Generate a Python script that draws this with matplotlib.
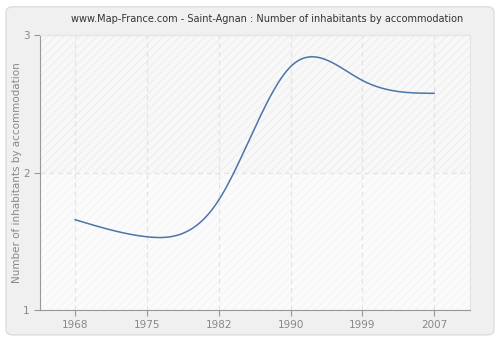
import numpy as np
import matplotlib.pyplot as plt
from matplotlib.patches import FancyBboxPatch, Rectangle

years = ["1968", "1975", "1982", "1990", "1999", "2007"]
values = [1.657, 1.533, 1.80, 2.77, 2.67, 2.576]


def natural_spline(x, y, n=400):
    x = np.asarray(x, float)
    y = np.asarray(y, float)
    k = len(x)
    h = np.diff(x)
    A = np.zeros((k, k))
    b = np.zeros(k)
    A[0, 0] = A[-1, -1] = 1
    for i in range(1, k - 1):
        A[i, i - 1] = h[i - 1]
        A[i, i] = 2 * (h[i - 1] + h[i])
        A[i, i + 1] = h[i]
        b[i] = 6 * ((y[i + 1] - y[i]) / h[i] - (y[i] - y[i - 1]) / h[i - 1])
    m = np.linalg.solve(A, b)
    xs = np.linspace(x[0], x[-1], n)
    idx = np.clip(np.searchsorted(x, xs) - 1, 0, k - 2)
    t0 = xs - x[idx]
    t1 = x[idx + 1] - xs
    hi = h[idx]
    ys = (m[idx] * t1 ** 3 / (6 * hi) + m[idx + 1] * t0 ** 3 / (6 * hi)
          + (y[idx] / hi - m[idx] * hi / 6) * t1
          + (y[idx + 1] / hi - m[idx + 1] * hi / 6) * t0)
    return xs, ys


fig = plt.figure(figsize=(5, 3.4), dpi=100)
fig.patch.set_facecolor("white")
bg = FancyBboxPatch((0.012, 0.015), 0.976, 0.965,
                    boxstyle="round,pad=0,rounding_size=0.015",
                    transform=fig.transFigure, facecolor="#f0f0f0",
                    edgecolor="#dddddd", linewidth=1, zorder=-10)
fig.patches.append(bg)

ax = fig.add_axes([0.08, 0.088, 0.86, 0.809])
ax.set_zorder(1)
pos = np.arange(len(years))
ax.set_xlim(-0.49, 5.5)
ax.set_ylim(1, 3)

ax.set_facecolor("#fbfbfb")
plt.rcParams["hatch.linewidth"] = 0.6
ax.add_patch(Rectangle((-0.49, 2), 5.99, 1, facecolor="#f8f8f8", edgecolor="#ebebeb",
                       hatch="////", linewidth=0, zorder=0))
ax.add_patch(Rectangle((-0.49, 1), 5.99, 1, facecolor="#fbfbfb", edgecolor="#f3f3f3",
                       hatch="////", linewidth=0, zorder=0))

xs, ys = natural_spline(pos, values)
ax.plot(xs, ys, color="#4a76a8", linewidth=1.1, zorder=3)

ax.set_xticks(pos)
ax.set_xticklabels(years)
ax.set_yticks([1, 2, 3])
ax.grid(True, color="#e4e4e4", linestyle=(0, (4, 3)), linewidth=0.9)
for l in ax.get_xgridlines() + ax.get_ygridlines():
    l.set_zorder(1)

for s in ["top", "right"]:
    ax.spines[s].set_color("#e4e4e4")
for s in ["left", "bottom"]:
    ax.spines[s].set_color("#999999")
ax.tick_params(colors="#999999", labelcolor="#888888", labelsize=7.5, length=4, direction="out")

ax.set_ylabel("Number of inhabitants by accommodation", color="#888888", fontsize=7.5, labelpad=1)
fig.text(0.535, 0.945, "www.Map-France.com - Saint-Agnan : Number of inhabitants by accommodation",
         ha="center", va="center", fontsize=7, color="#333333")

fig.savefig("out.png", dpi=100, facecolor=fig.get_facecolor())
